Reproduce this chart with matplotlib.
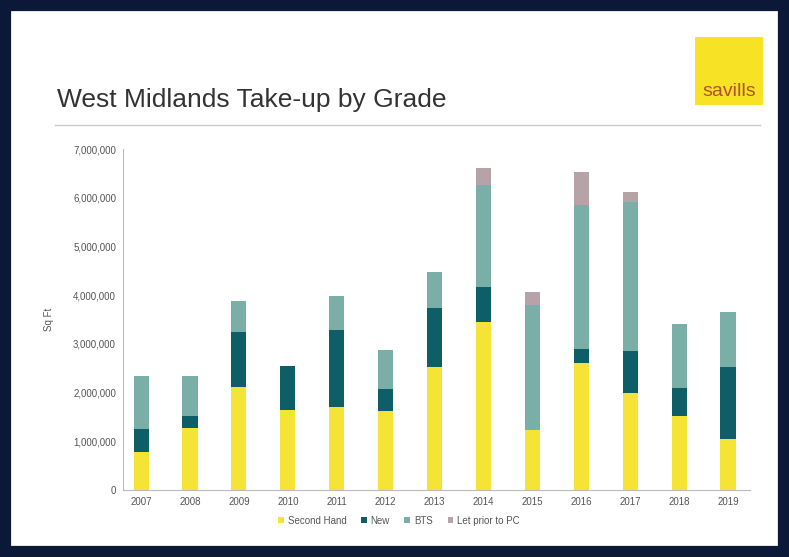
import matplotlib
matplotlib.use("Agg")
import matplotlib.pyplot as plt
from matplotlib.patches import Rectangle
from matplotlib.ticker import FuncFormatter
import numpy as np

years = ['2007', '2008', '2009', '2010', '2011', '2012', '2013',
         '2014', '2015', '2016', '2017', '2018', '2019']
second_hand = [790000, 1280000, 2110000, 1640000, 1710000, 1620000, 2530000,
               3440000, 1230000, 2600000, 2000000, 1510000, 1040000]
new = [460000, 240000, 1140000, 910000, 1580000, 450000, 1210000,
       730000, 0, 300000, 850000, 580000, 1480000]
bts = [1090000, 820000, 640000, 0, 690000, 800000, 730000,
       2090000, 2570000, 2950000, 3070000, 1320000, 1140000]
let_prior = [0, 0, 0, 0, 0, 0, 0,
             360000, 270000, 670000, 190000, 0, 0]

series = [('Second Hand', second_hand, '#F5E436'),
          ('New', new, '#0E5E68'),
          ('BTS', bts, '#7AAFA7'),
          ('Let prior to PC', let_prior, '#B5A3A8')]

plt.rcParams['font.family'] = ['Liberation Sans', 'DejaVu Sans']
fig = plt.figure(figsize=(7.89, 5.57), dpi=100)
fig.patch.set_facecolor('white')

# slide frame
navy = '#0C1838'
fig.patches.append(Rectangle((0, 0), 1, 1, transform=fig.transFigure,
                             fill=False, edgecolor=navy, linewidth=16, zorder=0))

# title, rule and logo
fig.text(57 / 789, 1 - 100 / 557, 'West Midlands Take-up by Grade', fontsize=19,
         color='#333333', va='center', ha='left')
fig.add_artist(plt.Line2D([55 / 789, 760 / 789], [1 - 125 / 557, 1 - 125 / 557],
                          transform=fig.transFigure, color='#C8C8C8', linewidth=1))
fig.patches.append(Rectangle((695 / 789, 1 - 105 / 557), 68 / 789, 68 / 557,
                             transform=fig.transFigure, facecolor='#F8E226',
                             edgecolor='none', zorder=1))
fig.text(729 / 789, 1 - 91 / 557, 'savills', fontsize=14, color='#B0512A',
         ha='center', va='center', zorder=2)

ax = fig.add_axes([123 / 789, 1 - 490 / 557, 627 / 789, 341 / 557])
x = np.arange(len(years))
bottom = np.zeros(len(years))
for label, vals, col in series:
    vals = np.array(vals)
    ax.bar(x, vals, width=0.31, bottom=bottom, color=col, label=label)
    bottom += vals

ax.set_xlim(-0.37, 12.45)
ax.set_ylim(0, 7000000)
ax.set_yticks(np.arange(0, 7000001, 1000000))
ax.yaxis.set_major_formatter(FuncFormatter(lambda v, p: f'{int(v):,}'))
ax.set_xticks(x)
ax.set_xticklabels(years)
ax.tick_params(length=0, labelsize=7, colors='#555555', pad=5)
for s in ['top', 'right']:
    ax.spines[s].set_visible(False)
for s in ['left', 'bottom']:
    ax.spines[s].set_color('#BBBBBB')
ax.set_ylabel('Sq Ft', fontsize=7, color='#555555', labelpad=14)

ax.legend(loc='upper center', bbox_to_anchor=(0.44, -0.05), ncol=4, frameon=False,
          fontsize=7, labelcolor='#555555', handlelength=0.6, handleheight=0.6,
          handletextpad=0.4, columnspacing=1.5)

fig.savefig('out.png', dpi=100)
